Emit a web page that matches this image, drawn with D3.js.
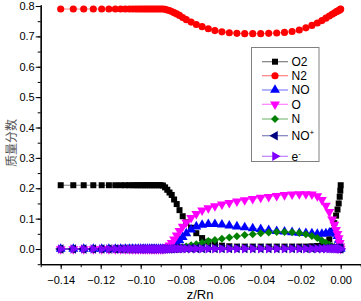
<!DOCTYPE html>
<html><head><meta charset="utf-8">
<script src="https://cdn.jsdelivr.net/npm/d3@7"></script>
<style>body{margin:0;background:#fff}svg{display:block}</style>
</head><body>
<svg id="c" width="361" height="301"></svg>
<script>
const xVals = [-0.1400,-0.1337,-0.1285,-0.1237,-0.1195,-0.1159,-0.1127,-0.1100,-0.1077,-0.1057,
 -0.1040,-0.1025,-0.1012,-0.1000,-0.0988,-0.0977,-0.0966,-0.0955,-0.0944,-0.0933,
 -0.0922,-0.0911,-0.0900,-0.0889,-0.0878,-0.0867,-0.0856,-0.0845,-0.0833,-0.0820,
 -0.0806,-0.0790,-0.0772,-0.0748,-0.0722,-0.0693,-0.0662,-0.0629,-0.0594,-0.0557,
 -0.0519,-0.0480,-0.0440,-0.0400,-0.0360,-0.0320,-0.0281,-0.0243,-0.0207,-0.0174,
 -0.0144,-0.0117,-0.0094,-0.0074,-0.0057,-0.0043,-0.0032,-0.0023,-0.0016,-0.0010,
 -0.0005,-0.0002,0.0000];

const O2 = [0.21,0.21,0.21,0.21,0.21,0.21,0.21,0.21,0.21,0.21,
 0.21,0.21,0.21,0.21,0.21,0.21,0.21,0.21,0.21,0.21,
 0.21,0.21,0.21,0.209,0.203,0.195,0.186,0.178,0.163,0.148,
 0.128,0.108,0.088,0.070,0.052,0.036,0.024,0.016,0.011,0.009,
 0.008,0.008,0.008,0.008,0.008,0.008,0.008,0.008,0.008,0.008,
 0.009,0.010,0.012,0.014,0.032,0.060,0.085,0.110,0.130,0.150,
 0.172,0.192,0.210];

const N2 = [0.79,0.79,0.79,0.79,0.79,0.79,0.79,0.79,0.79,0.79,
 0.79,0.79,0.79,0.79,0.79,0.79,0.79,0.79,0.79,0.79,
 0.79,0.79,0.79,0.790,0.789,0.787,0.785,0.782,0.778,0.774,
 0.769,0.762,0.755,0.747,0.739,0.732,0.725,0.719,0.715,0.712,
 0.710,0.709,0.709,0.709,0.710,0.711,0.713,0.716,0.721,0.728,
 0.736,0.744,0.752,0.760,0.767,0.773,0.777,0.781,0.783,0.785,
 0.787,0.789,0.790];

const NO = [0,0,0,0,0,0,0,0,0,0,
 0,0,0,0,0,0,0,0,0,0,
 0,0,0,0,0,0.001,0.003,0.006,0.011,0.019,
 0.028,0.039,0.051,0.064,0.074,0.079,0.082,0.082,0.080,0.077,
 0.074,0.071,0.068,0.065,0.062,0.059,0.057,0.055,0.053,0.052,
 0.051,0.050,0.050,0.051,0.053,0.055,0.055,0.050,0.042,0.030,
 0.016,0.006,0.000];

const O = [0,0,0,0,0,0,0,0,0,0,
 0,0,0,0,0,0,0,0,0,0,
 0,0,0,0,0.002,0.006,0.012,0.020,0.032,0.045,
 0.060,0.074,0.088,0.103,0.116,0.127,0.135,0.141,0.147,0.152,
 0.157,0.161,0.165,0.169,0.172,0.175,0.178,0.180,0.181,0.181,
 0.180,0.174,0.162,0.143,0.122,0.098,0.080,0.063,0.050,0.036,
 0.020,0.009,0.001];

const N = [0,0,0,0,0,0,0,0,0,0,
 0,0,0,0,0,0,0,0,0,0,
 0,0,0,0,0,0,0,0,0,0.001,
 0.003,0.005,0.008,0.012,0.016,0.021,0.026,0.030,0.034,0.038,
 0.042,0.046,0.049,0.052,0.054,0.056,0.056,0.055,0.053,0.049,
 0.043,0.036,0.028,0.021,0.014,0.009,0.006,0.004,0.003,0.002,
 0.001,0.000,0.000];

const NOp = [0,0,0,0,0,0,0,0,0,0,
 0,0,0,0,0,0,0,0,0,0,
 0,0,0,0,0,0,0,0.001,0.002,0.002,
 0.002,0.002,0.002,0.002,0.002,0.002,0.002,0.002,0.002,0.002,
 0.002,0.002,0.002,0.002,0.002,0.002,0.002,0.002,0.002,0.002,
 0.002,0.002,0.002,0.003,0.003,0.003,0.003,0.003,0.003,0.002,
 0.002,0.002,0.001];

const Em = [0,0,0,0,0,0,0,0,0,0,
 0,0,0,0,0,0,0,0,0,0,
 0,0,0,0,0,0,0,0.001,0.001,0.001,
 0.001,0.001,0.001,0.001,0.001,0.001,0.001,0.001,0.001,0.001,
 0.001,0.001,0.001,0.001,0.001,0.001,0.001,0.001,0.001,0.001,
 0.001,0.001,0.001,0.001,0.001,0.001,0.001,0.001,0.001,0.001,
 0.001,0.001,0.000];

const xTicks = [-0.14,-0.12,-0.10,-0.08,-0.06,-0.04,-0.02,0.00];
const yTicks = [0.0,0.1,0.2,0.3,0.4,0.5,0.6,0.7,0.8];

const series = [
  {name:"O2", sup:"", data:O2, color:"#000000", sym:d3.symbolSquare, size:36, rot:0},
  {name:"N2", sup:"", data:N2, color:"#ff0000", sym:d3.symbolCircle, size:40, rot:0},
  {name:"NO", sup:"", data:NO, color:"#0000ff", sym:d3.symbolTriangle, size:42, rot:0},
  {name:"O", sup:"", data:O, color:"#ff00ff", sym:d3.symbolTriangle, size:42, rot:180},
  {name:"N", sup:"", data:N, color:"#008000", sym:d3.symbolSquare, size:32, rot:45},
  {name:"NO", sup:"+", data:NOp, color:"#000080", sym:d3.symbolTriangle, size:40, rot:-90},
  {name:"e", sup:"-", data:Em, color:"#8000ff", sym:d3.symbolTriangle, size:40, rot:90}
];

const svg = d3.select("#c");
const x = d3.scaleLinear().domain([-0.15,0.01]).range([40.7,360.7]);
const y = d3.scaleLinear().domain([-0.05,0.8]).range([264.2,6]);
const font = "Arial, 'Liberation Sans', sans-serif";

// axes
const xAxis = d3.axisBottom(x).tickValues(xTicks).tickFormat(d3.format(".2f")).tickSize(5).tickSizeOuter(0);
const xMinor = d3.axisBottom(x).tickValues(d3.range(-0.15,0.0101,0.01)).tickFormat("").tickSize(3).tickSizeOuter(0);
const yAxis = d3.axisLeft(y).tickValues(yTicks).tickFormat(d3.format(".1f")).tickSize(5).tickSizeOuter(0);
const yMinor = d3.axisLeft(y).tickValues(d3.range(-0.05,0.801,0.05)).tickFormat("").tickSize(3).tickSizeOuter(0);

const gxm = svg.append("g").attr("transform",`translate(0,${y(-0.05)})`).call(xMinor);
const gx = svg.append("g").attr("transform",`translate(0,${y(-0.05)})`).call(xAxis);
const gym = svg.append("g").attr("transform",`translate(${x(-0.15)},0)`).call(yMinor);
const gy = svg.append("g").attr("transform",`translate(${x(-0.15)},0)`).call(yAxis);
[gx,gxm,gy,gym].forEach(g=>{
  g.selectAll("path").attr("stroke","#000").attr("stroke-width",1.2);
  g.selectAll("line").attr("stroke","#000").attr("stroke-width",1);
  g.selectAll("text").attr("font-family",font).attr("font-size",11).attr("fill","#000");
});
gx.selectAll("text").attr("dy","1.05em");
gy.selectAll("text").attr("x",-6);
gy.select("path").attr("d",`M0.5,${y(0.8)-1}V${y(-0.05)}`);

// axis titles
svg.append("text").attr("x",200).attr("y",299).attr("text-anchor","middle")
  .attr("font-family",font).attr("font-size",13).text("z/Rn");
svg.append("text").attr("transform",`translate(16,143) rotate(-90)`).attr("text-anchor","middle")
  .attr("font-family","'Noto Sans CJK SC', sans-serif").attr("font-size",12).attr("fill","#555")
  .text("质量分数");

// series
const line = d3.line().x((d,i)=>x(xVals[i])).y(d=>y(d));
series.forEach(s=>{
  svg.append("path").datum(s.data).attr("d",line).attr("fill","none")
    .attr("stroke",s.color).attr("stroke-opacity",0.5).attr("stroke-width",1);
});
series.forEach(s=>{
  const sym = d3.symbol().type(s.sym).size(s.size);
  svg.append("g").selectAll("path").data(s.data).join("path")
    .attr("d",sym)
    .attr("transform",(d,i)=>`translate(${x(xVals[i])},${y(d)}) rotate(${s.rot})`)
    .attr("fill",s.color);
});

// legend
const lg = svg.append("g");
lg.append("rect").attr("x",251.5).attr("y",47.5).attr("width",67.5).attr("height",114)
  .attr("fill","#fff").attr("stroke","#808080").attr("stroke-width",1);
const ly = [61.7,75.7,90,104.3,119,135.7,156.3];
series.forEach((s,i)=>{
  const yy = ly[i];
  lg.append("line").attr("x1",262).attr("x2",288).attr("y1",yy).attr("y2",yy)
    .attr("stroke",s.color).attr("stroke-opacity",0.5).attr("stroke-width",1.2);
  lg.append("path").attr("d",d3.symbol().type(s.sym).size(s.size)())
    .attr("transform",`translate(275,${yy}) rotate(${s.rot})`).attr("fill",s.color);
  const t = lg.append("text").attr("x",291.5).attr("y",yy+4.3)
    .attr("font-family",font).attr("font-size",12).attr("fill","#000");
  t.append("tspan").text(s.name);
  if (s.sup) t.append("tspan").attr("dy",-5).attr("font-size",8).text(s.sup);
});
</script>
</body></html>
